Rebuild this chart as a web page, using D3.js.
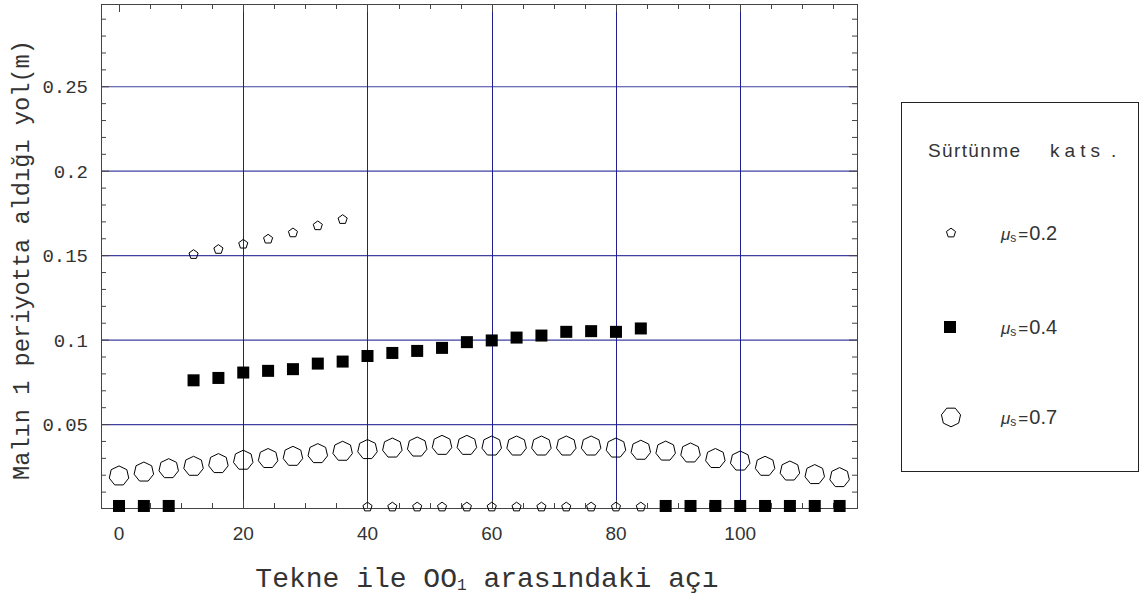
<!DOCTYPE html>
<html>
<head>
<meta charset="utf-8">
<script src="https://cdn.jsdelivr.net/npm/d3@7"></script>
<style>
	body { margin: 0; background: #fff; }
	svg { display: block; }
	.mono { font-family: "Liberation Mono", "DejaVu Sans Mono", monospace; fill: #333; }
	.sans { font-family: "Liberation Sans", Arial, sans-serif; fill: #333; }
</style>
</head>
<body>
<svg id="graph"></svg>
<script>
// data
var angles = [0, 4, 8, 12, 16, 20, 24, 28, 32, 36, 40, 44, 48, 52, 56, 60, 64, 68, 72, 76, 80, 84, 88, 92, 96, 100, 104, 108, 112, 116];

var mu02X = [12, 16, 20, 24, 28, 32, 36, 40, 44, 48, 52, 56, 60, 64, 68, 72, 76, 80, 84];
var mu02Y = [0.1507, 0.1537, 0.1568, 0.1598, 0.1635, 0.1677, 0.1714,
	0.0012, 0.0012, 0.0012, 0.0012, 0.0012, 0.0012, 0.0012, 0.0012, 0.0012, 0.0012, 0.0012, 0.0012];

var mu04Y = [0.0018, 0.0018, 0.0018,
	0.0762, 0.0776, 0.0808, 0.0818, 0.0828, 0.0861, 0.0873, 0.0906, 0.0924, 0.0936, 0.0954,
	0.0988, 0.0998, 0.1015, 0.1027, 0.1049, 0.1053, 0.1049, 0.1069,
	0.0018, 0.0018, 0.0018, 0.0018, 0.0018, 0.0018, 0.0018, 0.0018];

var mu07Y = [0.0196, 0.0219, 0.0239, 0.0253, 0.0269, 0.0289, 0.0299, 0.0312, 0.0328, 0.0342,
	0.0352, 0.0361, 0.0367, 0.0377, 0.0377, 0.0373, 0.0373, 0.0373, 0.0373, 0.0373,
	0.0361, 0.0348, 0.0343, 0.0332, 0.0299, 0.0284, 0.0253, 0.0225, 0.0204, 0.0186];

var xTicks = [0, 20, 40, 60, 80, 100];
var yTicks = [0.05, 0.1, 0.15, 0.2, 0.25];
var yTickLabels = ["0.05", "0.1", "0.15", "0.2", "0.25"];
var legendLabels = ["0.2", "0.4", "0.7"];

var W = 1145, H = 599,
	graph = d3.select("#graph").attr("width", W).attr("height", H);

var x = d3.scaleLinear().domain([-2.9, 118.8]).range([101, 857]),
	y = d3.scaleLinear().domain([0.0006, 0.299]).range([508, 4]);

var gridColor = "#1f1f8f";

// grid
graph.append("g").selectAll("line").data(xTicks.filter(function(d) { return d > 0; }))
	.enter().append("line")
		.attr("x1", function(d) { return Math.round(x(d)) + 0.5; })
		.attr("x2", function(d) { return Math.round(x(d)) + 0.5; })
		.attr("y1", y.range()[1]).attr("y2", y.range()[0])
		.attr("stroke", gridColor).attr("stroke-width", 1);
graph.append("g").selectAll("line").data(yTicks)
	.enter().append("line")
		.attr("x1", x.range()[0]).attr("x2", x.range()[1])
		.attr("y1", function(d) { return y(d); })
		.attr("y2", function(d) { return y(d); })
		.attr("stroke", gridColor).attr("stroke-width", 1.2).attr("stroke-opacity", 0.85);

// frame + ticks (inward, on all four sides)
var x0 = x.range()[0], x1 = x.range()[1], y0 = y.range()[0], y1 = y.range()[1];
var frame = graph.append("g").attr("stroke", "#444").attr("stroke-width", 1);
frame.append("rect").attr("x", x0 + 0.5).attr("y", y1 + 0.5)
	.attr("width", x1 - x0).attr("height", y0 - y1).attr("fill", "none");

var xMinor = d3.range(0, 120, 5), yMinor = d3.range(1, 30).map(function(d) { return d / 100; });
xMinor.forEach(function(v) {
	var len = (v % 20 === 0) ? 8 : 5, px = Math.round(x(v)) + 0.5;
	frame.append("line").attr("x1", px).attr("x2", px).attr("y1", y0).attr("y2", y0 - len);
	frame.append("line").attr("x1", px).attr("x2", px).attr("y1", y1).attr("y2", y1 + len);
});
yMinor.forEach(function(v) {
	var len = (Math.round(v * 100) % 5 === 0) ? 8 : 5, py = y(v);
	frame.append("line").attr("x1", x0).attr("x2", x0 + len).attr("y1", py).attr("y2", py);
	frame.append("line").attr("x1", x1).attr("x2", x1 - len).attr("y1", py).attr("y2", py);
});

// tick labels
graph.append("g").selectAll("text").data(xTicks)
	.enter().append("text")
		.attr("class", "sans")
		.attr("x", function(d) { return x(d); })
		.attr("y", 540)
		.attr("text-anchor", "middle")
		.attr("font-size", 19)
		.text(function(d) { return d; });
graph.append("g").selectAll("text").data(yTicks)
	.enter().append("text")
		.attr("class", "mono")
		.attr("x", 88)
		.attr("y", function(d) { return y(d); })
		.attr("dy", "0.35em")
		.attr("text-anchor", "end")
		.attr("font-size", 19)
		.text(function(d, i) { return yTickLabels[i]; });

// axis titles
var xt = graph.append("text").attr("class", "mono")
	.attr("x", 487).attr("y", 587).attr("text-anchor", "middle").attr("font-size", 28);
xt.append("tspan").text("Tekne ile OO");
xt.append("tspan").attr("font-size", 16).attr("dy", 3).text("1");
xt.append("tspan").attr("dy", -3).text(" arasındaki açı");

graph.append("text").attr("class", "mono")
	.attr("transform", "translate(29,260) rotate(-90)")
	.attr("text-anchor", "middle").attr("font-size", 23)
	.attr("textLength", 440).attr("lengthAdjust", "spacingAndGlyphs")
	.text("Malın 1 periyotta aldığı yol(m)");

// markers
function poly(n, r, rot) {
	var pts = d3.range(n).map(function(i) {
		var a = rot + i * 2 * Math.PI / n - Math.PI / 2;
		return [r * Math.cos(a), r * Math.sin(a)];
	});
	return d3.line()(pts) + "Z";
}
var pentagon = poly(5, 4.8, 0), heptagon = poly(7, 10, 0);

var marks = graph.append("g").attr("class", "points");
marks.selectAll(".hep").data(angles)
	.enter().append("path")
		.attr("class", "hep")
		.attr("d", heptagon)
		.attr("transform", function(d, i) { return "translate(" + x(d) + "," + y(mu07Y[i]) + ")"; })
		.attr("fill", "none").attr("stroke", "#000").attr("stroke-width", 1);
marks.selectAll(".sq").data(angles)
	.enter().append("rect")
		.attr("class", "sq")
		.attr("x", function(d) { return x(d) - 6; })
		.attr("y", function(d, i) { return y(mu04Y[i]) - 6; })
		.attr("width", 12).attr("height", 12)
		.attr("fill", "#000");
marks.selectAll(".pent").data(mu02X)
	.enter().append("path")
		.attr("class", "pent")
		.attr("d", pentagon)
		.attr("transform", function(d, i) { return "translate(" + x(d) + "," + y(mu02Y[i]) + ")"; })
		.attr("fill", "none").attr("stroke", "#000").attr("stroke-width", 1);

// legend
var lg = graph.append("g");
lg.append("rect").attr("x", 901.5).attr("y", 102.5).attr("width", 237).attr("height", 369)
	.attr("fill", "#fff").attr("stroke", "#222").attr("stroke-width", 1);
var lt = lg.append("text").attr("class", "sans").attr("y", 157).attr("font-size", 19);
lt.append("tspan").attr("x", 928).attr("textLength", 92).attr("lengthAdjust", "spacing").text("Sürtünme");
lt.append("tspan").attr("x", 1050).attr("textLength", 50).attr("lengthAdjust", "spacing").text("kats");
lt.append("tspan").attr("x", 1111).text(".");

var legendY = [233, 327, 417];
lg.append("path").attr("d", pentagon)
	.attr("transform", "translate(951," + legendY[0] + ")")
	.attr("fill", "none").attr("stroke", "#000");
lg.append("rect").attr("x", 944).attr("y", legendY[1] - 6).attr("width", 12).attr("height", 12).attr("fill", "#000");
lg.append("path").attr("d", poly(7, 9.8, Math.PI / 7))
	.attr("transform", "translate(951," + legendY[2] + ")")
	.attr("fill", "none").attr("stroke", "#000");

legendLabels.forEach(function(v, i) {
	var t = lg.append("text").attr("class", "sans")
		.attr("x", 1001).attr("y", legendY[i] + 7).attr("font-size", 17);
	t.append("tspan").attr("font-style", "italic").text("μ");
	t.append("tspan").attr("font-size", 12).attr("dy", 2).text("s");
	t.append("tspan").attr("dy", -2).attr("dx", 2).text("=");
	t.append("tspan").attr("font-size", 20).attr("dx", 1).text(v);
});
</script>
</body>
</html>
